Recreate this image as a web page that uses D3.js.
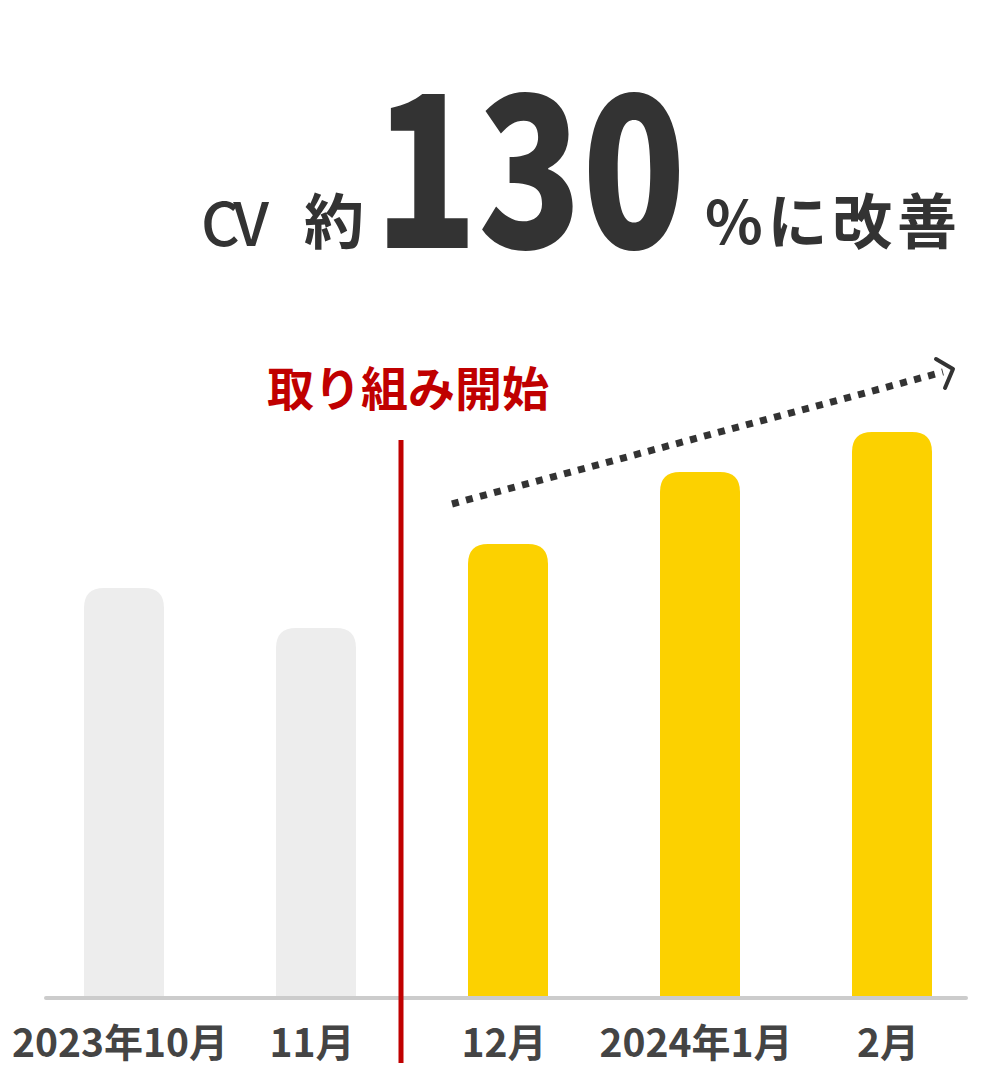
<!DOCTYPE html>
<html lang="ja">
<head>
<meta charset="UTF-8">
<title>CV約130%に改善</title>
<script src="https://cdn.jsdelivr.net/npm/d3@7"></script>
<style>
    body { margin: 0; background: #fff; }
    svg text { font-family: "Noto Sans CJK JP", "Noto Sans", sans-serif; }
</style>
</head>
<body>
<script>
    var w = 1008;
    var h = 1088;

    // data (bar heights, relative units)
    var months = ["2023年10月", "11月", "12月", "2024年1月", "2月"];
    var cv = [409, 369, 453, 525, 565];
    var phase = ["before", "before", "after", "after", "after"];
    var startLabel = "取り組み開始";

    var baseY = 997;
    var barW = 80;

    var x = d3.scalePoint()
        .domain(months)
        .range([124, 892]);

    var y = d3.scaleLinear()
        .domain([0, 600])
        .range([baseY, baseY - 600]);

    var svg = d3.select("body")
        .append("svg")
        .attr("width", w)
        .attr("height", h);

    // headline
    var title = svg.append("g").attr("fill", "#333");
    title.append("text")
        .attr("x", 201).attr("y", 246)
        .attr("font-size", 60).attr("font-weight", 500)
        .attr("textLength", 68)
        .text("CV");
    title.append("text")
        .attr("x", 304).attr("y", 244)
        .attr("font-size", 60).attr("font-weight", 700)
        .text("約");
    // big number: narrower font size, stretched vertically
    var big = title.append("text")
        .attr("transform", "translate(374,248) scale(1,1.12)")
        .attr("font-size", 184).attr("font-weight", 900)
        .text("130");
    var bw = big.node().getComputedTextLength();
    big.attr("transform", "translate(374,248) scale(" + (312 / bw) + ",1.12)");

    title.append("text")
        .attr("x", 705).attr("y", 244)
        .attr("font-size", 60).attr("font-weight", 700)
        .attr("textLength", 252)
        .text("%に改善");

    // bars with rounded tops
    function barPath(d, i) {
        var x0 = x(months[i]) - barW / 2;
        var x1 = x0 + barW;
        var top = y(d);
        var r = 20;
        return "M" + x0 + "," + baseY +
            "V" + (top + r) +
            "Q" + x0 + "," + top + " " + (x0 + r) + "," + top +
            "H" + (x1 - r) +
            "Q" + x1 + "," + top + " " + x1 + "," + (top + r) +
            "V" + baseY + "Z";
    }

    svg.selectAll("path.bar")
        .data(cv)
        .enter()
        .append("path")
        .attr("class", "bar")
        .attr("d", barPath)
        .attr("fill", function (d, i) {
            return phase[i] === "before" ? "#ededed" : "#fcd100";
        });

    // baseline
    svg.append("line")
        .attr("x1", 46).attr("x2", 966)
        .attr("y1", baseY + 1).attr("y2", baseY + 1)
        .attr("stroke", "#cccccc")
        .attr("stroke-width", 4)
        .attr("stroke-linecap", "round");

    // month labels
    svg.selectAll("text.month")
        .data(months)
        .enter()
        .append("text")
        .attr("class", "month")
        .attr("x", function (d) { return x(d) - 4; })
        .attr("y", 1057)
        .attr("text-anchor", "middle")
        .attr("font-size", 39)
        .attr("font-weight", 700)
        .attr("fill", "#444")
        .text(function (d) { return d; });

    // start marker
    var markX = (x(months[1]) + x(months[2])) / 2 - 11;
    svg.append("line")
        .attr("x1", markX).attr("x2", markX)
        .attr("y1", 440).attr("y2", 1063)
        .attr("stroke", "#c00000")
        .attr("stroke-width", 5);

    svg.append("text")
        .attr("x", 408).attr("y", 406)
        .attr("text-anchor", "middle")
        .attr("font-size", 47)
        .attr("font-weight", 700)
        .attr("fill", "#c00000")
        .text(startLabel);

    // trend arrow above the yellow bars
    var ax0 = x(months[2]) - 56, ay0 = y(cv[2]) - 40;
    var ax1 = x(months[4]) + 61, ay1 = y(cv[4]) - 63;
    svg.append("line")
        .attr("x1", ax0).attr("y1", ay0)
        .attr("x2", ax1 - 10).attr("y2", ay1 + 3)
        .attr("stroke", "#333")
        .attr("stroke-width", 7)
        .attr("stroke-dasharray", "7 7.5");

    svg.append("polyline")
        .attr("points", [[ax1 - 17, ay1 - 10], [ax1, ay1], [ax1 - 8, ay1 + 19]].join(" "))
        .attr("fill", "none")
        .attr("stroke", "#333")
        .attr("stroke-width", 4)
        .attr("stroke-linecap", "round")
        .attr("stroke-linejoin", "round");
</script>
</body>
</html>
